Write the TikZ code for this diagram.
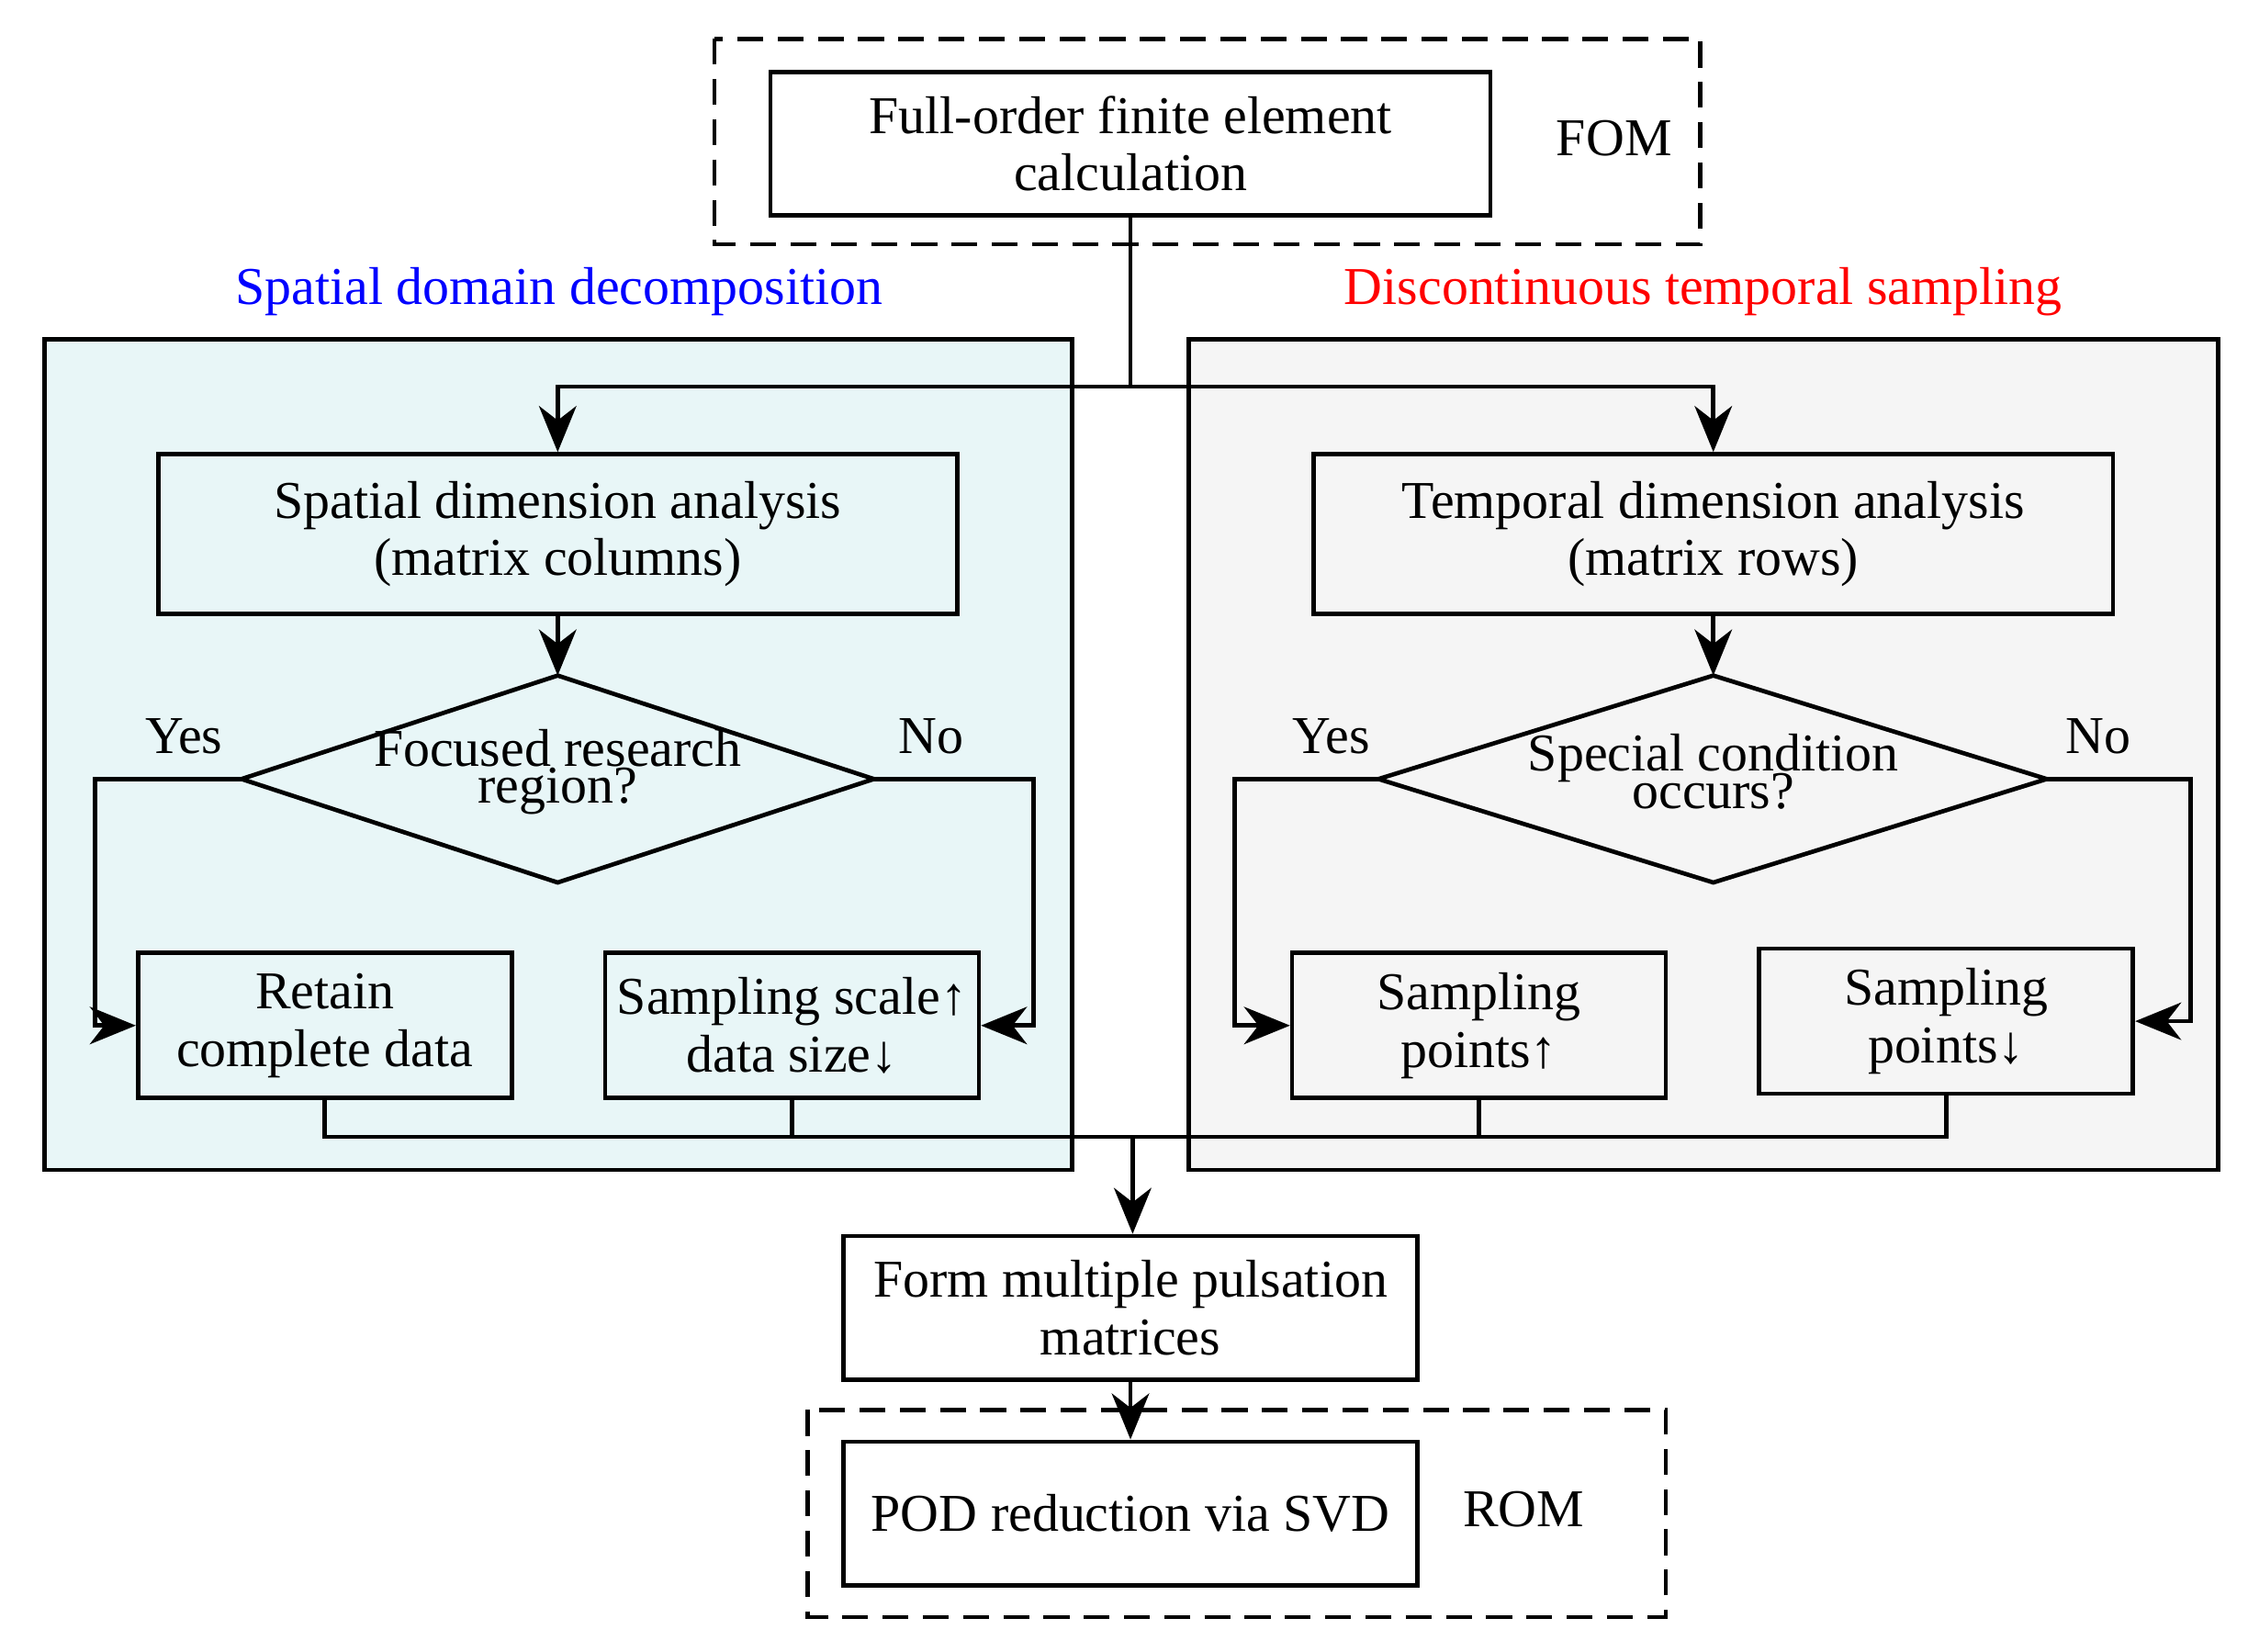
\documentclass[tikz,border=0pt]{standalone}
\usepackage{fontspec}
\setmainfont{Liberation Serif}
\usetikzlibrary{arrows.meta}
\definecolor{cyanbg}{RGB}{232,246,247}
\definecolor{graybg}{RGB}{245,245,245}
\begin{document}
\begin{tikzpicture}[x=0.5pt,y=-0.5pt,
  every node/.style={font=\fontsize{18.5}{20}\selectfont},
  box/.style={draw,line width=1.5pt,align=center,inner sep=0pt},
  dashbox/.style={draw,line width=1.5pt,dash pattern=on 9pt off 5pt},
  ln/.style={line width=1.5pt},
  arr/.style={line width=1.5pt,-{Stealth[length=16pt,width=13pt,inset=5pt]}}]
\useasboundingbox (0,0) rectangle (1564,1149);
% panels
\draw[ln,fill=cyanbg] (31,236) rectangle (746,814);
\draw[ln,fill=graybg] (827,236) rectangle (1543,814);
\node[text=blue] (tl) at (389,203) {Spatial domain decomposition};
\node[text=red] (tr) at (1185,203) {Discontinuous temporal sampling};
% FOM
\draw[dashbox] (497,27) rectangle (1183,170);
\node[box,minimum width=250.5pt,minimum height=50pt] (fom) at (786.5,100) {Full-order finite element\\calculation};
\node (foml) at (1123,96) {FOM};
% analysis boxes
\node[box,minimum width=278pt,minimum height=55.5pt] (sa) at (388,371.5) {Spatial dimension analysis\\(matrix columns)};
\node[box,minimum width=278pt,minimum height=55.5pt] (ta) at (1192,371.5) {Temporal dimension analysis\\(matrix rows)};
\coordinate (split) at (786.5,269);
\draw[ln] (fom.south) -- (split);
\draw[arr] (split) -| (sa.north);
\draw[arr] (split) -| (ta.north);
% diamonds
\coordinate (dlt) at (388,470); \coordinate (dlb) at (388,614);
\coordinate (dll) at (168,542); \coordinate (dlr) at (608,542);
\draw[ln] (dlt) -- (dlr) -- (dlb) -- (dll) -- cycle;
\node[align=center] (dlx) at (388,537) {Focused research\\[-7pt]region?};
\coordinate (drt) at (1192,470); \coordinate (drb) at (1192,614);
\coordinate (drl) at (959,542); \coordinate (drr) at (1424,542);
\draw[ln] (drt) -- (drr) -- (drb) -- (drl) -- cycle;
\node[align=center] (drx) at (1192,537) {Special condition\\[-7pt]occurs?};
\draw[arr] (sa.south) -- (dlt);
\draw[arr] (ta.south) -- (drt);
\node (y1) at (128,512) {Yes}; \node (n1) at (648,512) {No};
\node (y2) at (926,512) {Yes}; \node (n2) at (1460,512) {No};
% leaf boxes
\node[box,minimum width=130pt,minimum height=50.5pt] (b1) at (226,713.5) {Retain\\complete data};
\node[box,minimum width=130pt,minimum height=50.5pt] (b2) at (551,713.5) {Sampling scale↑\\data size↓};
\node[box,minimum width=130pt,minimum height=50.5pt] (b3) at (1029,713.5) {Sampling\\points↑};
\node[box,minimum width=130pt,minimum height=50.5pt] (b4) at (1354,710.5) {Sampling\\points↓};
\coordinate (c1) at (66,542); \coordinate (c2) at (719,542);
\coordinate (c3) at (859,542); \coordinate (c4) at (1524,542);
\draw[arr] (dll) -- (c1) |- (b1.west);
\draw[arr] (dlr) -- (c2) |- (b2.east);
\draw[arr] (drl) -- (c3) |- (b3.west);
\draw[arr] (drr) -- (c4) |- (b4.east);
% merge
\coordinate (m1) at (226,791); \coordinate (m4) at (1354,791); \coordinate (mm) at (788,791);
\draw[ln] (b1.south) -- (m1) -- (m4) -- (b4.south);
\draw[ln] (b2.south) -- (551,791);
\draw[ln] (b3.south) -- (1029,791);
\node[box,minimum width=199.5pt,minimum height=50pt] (form) at (786.5,910) {Form multiple pulsation\\matrices};
\draw[arr] (mm) -- (mm |- form.north);
% ROM
\draw[dashbox] (562,981) rectangle (1159,1125);
\node[box,minimum width=199.5pt,minimum height=50pt] (pod) at (786.5,1053) {POD reduction via SVD};
\node (roml) at (1060,1050) {ROM};
\draw[arr] (form.south) -- (pod.north);
\end{tikzpicture}
\end{document}
